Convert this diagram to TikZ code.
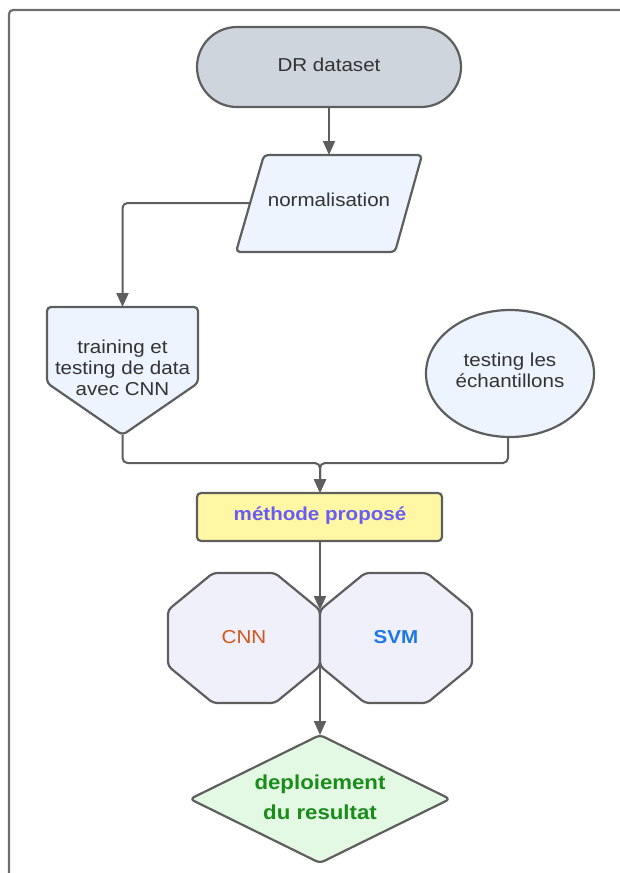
\documentclass[tikz,border=0pt]{standalone}
\usepackage{fontspec}
\setmainfont{Liberation Sans}[FakeStretch=1.1]
\usetikzlibrary{arrows.meta}

\definecolor{edge}{HTML}{5E5E5E}
\definecolor{ink}{HTML}{333333}
\definecolor{greyfill}{HTML}{CFD5DD}
\definecolor{bluefill}{HTML}{EDF4FE}
\definecolor{yellowfill}{HTML}{FFF7A3}
\definecolor{lavfill}{HTML}{F0F0FB}
\definecolor{greenfill}{HTML}{E3F9E3}
\definecolor{methtext}{HTML}{675CF5}
\definecolor{cnntext}{HTML}{CF561A}
\definecolor{svmtext}{HTML}{1E78E6}
\definecolor{deptext}{HTML}{1A8C1A}

\begin{document}
\begin{tikzpicture}[x=1pt, y=-1pt,
  blk/.style={draw=edge, line width=2.2pt, rounded corners=4pt, line join=round},
  link/.style={draw=edge, line width=2pt, rounded corners=5pt,
    -{Triangle[length=14pt, width=12pt]}},
  lbl/.style={text=ink, font=\fontsize{18.7}{21}\selectfont, align=center, inner sep=0pt},
  boldlbl/.style={lbl, font=\fontsize{18.7}{21}\selectfont\bfseries},
  biglbl/.style={lbl, font=\fontsize{20.2}{30}\selectfont\bfseries}]

\useasboundingbox (0,0) rectangle (620,873);
\clip (0,0) rectangle (620,873);

% outer frame
\draw[draw=edge!90, line width=2.2pt, rounded corners=4pt] (9,10) rectangle (650,900);

% start terminal
\draw[blk, fill=greyfill, rounded corners=40pt] (197,27) rectangle (461,107);
\node[lbl] (dr) at (329,65) {DR dataset};

% data step (parallelogram)
\draw[blk, fill=bluefill] (264,155) -- (422,155) -- (395,252) -- (236,252) -- cycle;
\node[lbl] (norm) at (329,200) {normalisation};

% training step (pointed block)
\draw[blk, fill=bluefill] (47,307) -- (198,307) -- (198,383) -- (122.5,435) -- (47,383) -- cycle;
\node[lbl] (train) at (122.5,368) {training et\\testing de data\\avec CNN};

% sample testing (ellipse)
\draw[blk, fill=bluefill] (510,373.5) ellipse [x radius=84, y radius=63.5];
\node[lbl] (ech) at (510,370) {testing les\\échantillons};

% proposed method
\draw[blk, fill=yellowfill] (197,493) rectangle (442,541);
\node[boldlbl, text=methtext] (meth) at (320,516) {méthode proposé};

% classifiers (octagons)
\draw[blk, fill=lavfill] (213,573) -- (275,573) -- (320,610) -- (320,666) -- (275,703)
  -- (213,703) -- (168,666) -- (168,610) -- cycle;
\draw[blk, fill=lavfill] (365,573) -- (427,573) -- (472,610) -- (472,666) -- (427,703)
  -- (365,703) -- (320,666) -- (320,610) -- cycle;
\node[lbl, text=cnntext] (cnn) at (244,637) {CNN};
\node[boldlbl, text=svmtext] (svm) at (396,637) {SVM};

% result (diamond)
\draw[blk, fill=greenfill] (320,735) -- (450,799) -- (320,863) -- (190,799) -- cycle;
\node[biglbl, text=deptext] (dep) at (320,797) {deploiement\\du resultat};

% connection points
\coordinate (dr-s) at (329,107);
\coordinate (norm-n) at (329,155);
\coordinate (norm-w) at (250,203);
\coordinate (train-n) at (122.5,307);
\coordinate (train-s) at (122.5,435);
\coordinate (ech-s) at (508,437);
\coordinate (merge) at (320,463);
\coordinate (meth-n) at (320,493);
\coordinate (meth-s) at (320,541);
\coordinate (clf-n) at (320,610);
\coordinate (clf-s) at (320,666);
\coordinate (dep-n) at (320,735);

% connectors
\draw[link] (dr-s) -- (norm-n);
\draw[link] (norm-w) -| (train-n);
\draw[link] (train-s) |- (merge) -- (meth-n);
\draw[link] (ech-s) |- (merge) -- (meth-n);
\draw[link] (meth-s) -- (clf-n);
\draw[link] (clf-s) -- (dep-n);

\end{tikzpicture}
\end{document}
